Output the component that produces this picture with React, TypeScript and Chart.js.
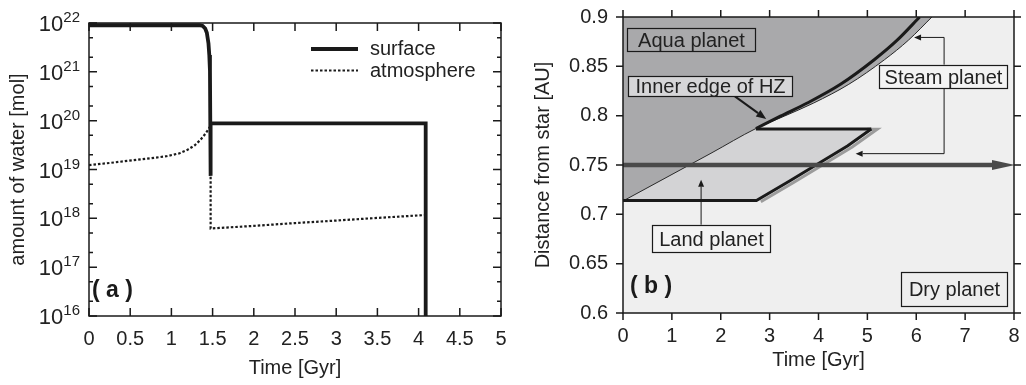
import React, { useEffect, useRef } from "react";
import { Chart, registerables } from "chart.js";

Chart.register(...registerables);

const FONT = '"Liberation Sans", Arial, Helvetica, sans-serif';
const INK = "#1a1a1a";
const TEXT = "#222222";

// ---------------- Panel (a): amount of water ----------------
const surfaceTime = [0, 1.34, 1.38, 1.41, 1.43, 1.45, 1.46, 1.468, 1.476, 1.476, 4.086, 4.086];
const surfaceWater = [9e21, 9e21, 8.7e21, 7.7e21, 6.3e21, 3.8e21, 2.2e21, 1.05e21, 7.4e18, 8.8e19, 8.8e19, 1e15];
const atmTime = [0, 0.25, 0.54, 0.75, 0.94, 1.1, 1.19, 1.28, 1.35, 1.42, 1.465, 1.476, 1.476, 2.0, 2.5, 3.0, 3.5, 4.086];
const atmWater = [1.23e19, 1.36e19, 1.55e19, 1.7e19, 1.87e19, 2.15e19, 2.5e19, 3.1e19, 4.0e19, 5.6e19, 7.4e19, 7.8e19, 6.2e17, 7.0e17, 8.0e17, 9.0e17, 1.02e18, 1.17e18];
const timeTicksA = [0, 0.5, 1, 1.5, 2, 2.5, 3, 3.5, 4, 4.5, 5];
const waterDecades = [16, 17, 18, 19, 20, 21, 22];
const waterMinorFactors = [2, 5];

// ---------------- Panel (b): distance vs time ----------------
const aquaEdgeTime = [0, 0.9, 1.8, 2.72, 3.3, 3.9, 4.62, 5.35, 5.84, 6.32];
const aquaEdgeDist = [0.7135, 0.7377, 0.7619, 0.787, 0.7995, 0.8128, 0.8318, 0.8567, 0.8765, 0.9];
const hzTime = [2.72, 3.22, 3.77, 4.45, 5.14, 5.61, 6.07];
const hzDist = [0.787, 0.7995, 0.8128, 0.8318, 0.8567, 0.8765, 0.9];
const landTime = [0, 2.73, 3.4, 4.0, 4.6, 5.08];
const landDist = [0.714, 0.714, 0.7335, 0.7515, 0.7695, 0.7865];
const landTopTime = [2.72, 5.08];
const landTopDist = [0.7865, 0.7865];
const shadowTime = [2.82, 3.49, 4.09, 4.69, 5.2, 5.0];
const shadowDist = [0.7128, 0.7323, 0.7503, 0.7683, 0.7862, 0.7862];
const orbitTime = [0, 8];
const orbitDist = [0.75, 0.75];
const timeTicksB = [0, 1, 2, 3, 4, 5, 6, 7, 8];
const distTicks = [0.6, 0.65, 0.7, 0.75, 0.8, 0.85, 0.9];

const AQUA = "#a9a9ab";
const LAND = "#d3d3d5";
const DRY = "#efefef";

// annotation layout (in data coordinates of panel b)
const labelBoxes = [
  { text: "Aqua planet", x0: 0.09, x1: 2.71, y0: 0.8889, y1: 0.8651, fill: AQUA },
  { text: "Inner edge of HZ", x0: 0.1, x1: 3.46, y0: 0.8405, y1: 0.8195, fill: "#d6d6d8" },
  { text: "Steam planet", x0: 5.24, x1: 7.86, y0: 0.8517, y1: 0.828, fill: "#f3f3f3" },
  { text: "Land planet", x0: 0.594, x1: 3.004, y0: 0.6895, y1: 0.6618, fill: "#f3f3f3" },
  { text: "Dry planet", x0: 5.68, x1: 7.86, y0: 0.6412, y1: 0.6074, fill: "#eeeeee" },
];
const pointerArrows = [
  { path: [[2.29, 0.8195], [2.93, 0.7966]], width: 2, head: 10, half: 4 },
  { path: [[6.57, 0.8517], [6.57, 0.8793], [5.955, 0.8793]], width: 1, head: 7, half: 3 },
  { path: [[6.57, 0.828], [6.57, 0.7615], [4.76, 0.7615]], width: 1, head: 7, half: 3 },
  { path: [[1.598, 0.6895], [1.598, 0.7351]], width: 1, head: 7, half: 3 },
];

const pts = (xs: number[], ys: number[]) => xs.map((x, i) => ({ x, y: ys[i] }));
const fmt = (v: number) => String(Math.round(v * 1000) / 1000);

function drawHead(ctx: CanvasRenderingContext2D, fx: number, fy: number, tx: number, ty: number, head: number, half: number) {
  const ang = Math.atan2(ty - fy, tx - fx);
  const c = Math.cos(ang), s = Math.sin(ang);
  const bx = tx - c * head, by = ty - s * head;
  ctx.beginPath();
  ctx.moveTo(tx, ty);
  ctx.lineTo(bx - s * half, by + c * half);
  ctx.lineTo(bx + s * half, by - c * half);
  ctx.closePath();
  ctx.fill();
  return [bx, by];
}

function frameTicks(xTicks: { v: number; len: number }[], yTicks: { v: number; len: number }[], inward: boolean) {
  return {
    id: "frameTicks",
    afterDatasetsDraw(chart: any) {
      const { ctx, chartArea: a, scales } = chart;
      ctx.save();
      ctx.strokeStyle = INK;
      ctx.lineWidth = 1.5;
      ctx.setLineDash([]);
      ctx.strokeRect(a.left, a.top, a.right - a.left, a.bottom - a.top);
      const d = inward ? 1 : -1;
      ctx.beginPath();
      for (const t of xTicks) {
        const px = scales.x.getPixelForValue(t.v);
        ctx.moveTo(px, a.bottom);
        ctx.lineTo(px, a.bottom - d * t.len);
        ctx.moveTo(px, a.top);
        ctx.lineTo(px, a.top + d * t.len);
      }
      for (const t of yTicks) {
        const py = scales.y.getPixelForValue(t.v);
        ctx.moveTo(a.left, py);
        ctx.lineTo(a.left + d * t.len, py);
        ctx.moveTo(a.right, py);
        ctx.lineTo(a.right - d * t.len, py);
      }
      ctx.stroke();
      ctx.restore();
    },
  };
}

function panelTag(text: string, dx: number, dyFromBottom: number) {
  return {
    id: "panelTag",
    afterDatasetsDraw(chart: any) {
      const { ctx, chartArea: a } = chart;
      ctx.save();
      ctx.font = `bold 23px ${FONT}`;
      ctx.fillStyle = INK;
      ctx.textAlign = "left";
      ctx.textBaseline = "alphabetic";
      ctx.fillText(text, a.left + dx, a.bottom - dyFromBottom);
      ctx.restore();
    },
  };
}

const noSidePadding = (s: any, h: number) => {
  s.height = h;
  s.paddingLeft = 0;
  s.paddingRight = 0;
};

function makeLeft(canvas: HTMLCanvasElement) {
  const xTicks = timeTicksA.map((v) => ({ v, len: 8 }));
  const yTicks: { v: number; len: number }[] = [];
  waterDecades.forEach((e) => {
    yTicks.push({ v: Math.pow(10, e), len: 8 });
    if (e < waterDecades[waterDecades.length - 1]) waterMinorFactors.forEach((f) => yTicks.push({ v: f * Math.pow(10, e), len: 4 }));
  });
  const supLabels = {
    id: "supLabels",
    afterDraw(chart: any) {
      const { ctx, chartArea: a, scales } = chart;
      ctx.save();
      ctx.fillStyle = TEXT;
      ctx.textBaseline = "alphabetic";
      for (const e of waterDecades) {
        const py = scales.y.getPixelForValue(Math.pow(10, e));
        const right = a.left - 9;
        ctx.font = `15px ${FONT}`;
        const ew = ctx.measureText(String(e)).width;
        ctx.textAlign = "left";
        ctx.fillText(String(e), right - ew, py - 1);
        ctx.font = `22px ${FONT}`;
        ctx.textAlign = "right";
        ctx.fillText("10", right - ew, py + 8);
      }
      ctx.restore();
    },
  };
  const legendBox = {
    id: "legendBox",
    afterDatasetsDraw(chart: any) {
      const { ctx, chartArea: a } = chart;
      ctx.save();
      chart.data.datasets.forEach((ds: any, i: number) => {
        const y = a.top + 26 + i * 21.5;
        ctx.strokeStyle = ds.borderColor;
        ctx.lineWidth = ds.borderWidth;
        ctx.setLineDash(ds.borderDash || []);
        ctx.beginPath();
        ctx.moveTo(a.left + 222, y);
        ctx.lineTo(a.left + 269, y);
        ctx.stroke();
        ctx.setLineDash([]);
        ctx.font = `20px ${FONT}`;
        ctx.fillStyle = TEXT;
        ctx.textAlign = "left";
        ctx.textBaseline = "alphabetic";
        ctx.fillText(ds.label, a.left + 281, y + 6);
      });
      ctx.restore();
    },
  };
  return new Chart(canvas, {
    type: "line",
    data: {
      datasets: [
        { label: "surface", data: pts(surfaceTime, surfaceWater), borderColor: INK, borderWidth: 3.8, pointRadius: 0, tension: 0, borderJoinStyle: "miter", fill: false },
        { label: "atmosphere", data: pts(atmTime, atmWater), borderColor: INK, borderWidth: 2.2, borderDash: [2.5, 2], pointRadius: 0, tension: 0, fill: false },
      ],
    },
    options: {
      animation: false,
      responsive: false,
      maintainAspectRatio: false,
      layout: { padding: { top: 23, right: 14, bottom: 0, left: 0 } },
      plugins: { legend: { display: false }, tooltip: { enabled: false } },
      scales: {
        x: {
          type: "linear",
          min: 0,
          max: 5,
          afterBuildTicks: (s: any) => { s.ticks = timeTicksA.map((v) => ({ value: v })); },
          ticks: { font: { size: 20, family: FONT }, color: TEXT, padding: 11, maxRotation: 0, autoSkip: false, callback: (v: any) => fmt(Number(v)) },
          grid: { display: false, drawTicks: false },
          border: { display: false },
          title: { display: true, text: "Time [Gyr]", font: { size: 20, family: FONT }, color: TEXT, padding: { top: 0, bottom: 5 } },
          afterFit: (s: any) => noSidePadding(s, 69),
        },
        y: {
          type: "logarithmic",
          min: 1e16,
          max: 1e22,
          afterBuildTicks: (s: any) => { s.ticks = waterDecades.map((e) => ({ value: Math.pow(10, e) })); },
          ticks: { display: false },
          grid: { display: false, drawTicks: false },
          border: { display: false },
          title: { display: true, text: "amount of water [mol]", font: { size: 20, family: FONT }, color: TEXT, padding: { top: 6, bottom: 0 } },
          afterFit: (s: any) => { s.width = 89; s.paddingTop = 0; s.paddingBottom = 0; },
        },
      },
    } as any,
    plugins: [frameTicks(xTicks, yTicks, true), supLabels, legendBox, panelTag("( a )", 3, 19)] as any,
  });
}

function makeRight(canvas: HTMLCanvasElement) {
  const xTicks = timeTicksB.map((v) => ({ v, len: 7 }));
  const yTicks = distTicks.map((v) => ({ v, len: 7 }));
  const background = {
    id: "dryBg",
    beforeDatasetsDraw(chart: any) {
      const { ctx, chartArea: a } = chart;
      ctx.save();
      ctx.fillStyle = DRY;
      ctx.fillRect(a.left, a.top, a.right - a.left, a.bottom - a.top);
      ctx.restore();
    },
  };
  const annotations = {
    id: "annotations",
    afterDatasetsDraw(chart: any) {
      const { ctx, scales } = chart;
      const X = (v: number) => scales.x.getPixelForValue(v);
      const Y = (v: number) => scales.y.getPixelForValue(v);
      ctx.save();
      // orbit arrow head
      const oy = Y(orbitDist[1]);
      ctx.fillStyle = "#4a4a4a";
      drawHead(ctx, X(orbitTime[0]), oy, X(orbitTime[1]) + 1, oy, 23, 5);
      // pointer arrows
      ctx.fillStyle = INK;
      ctx.strokeStyle = INK;
      for (const ar of pointerArrows) {
        const p = ar.path.map(([x, y]) => [X(x), Y(y)]);
        const n = p.length;
        ctx.lineWidth = ar.width;
        const [bx, by] = drawHead(ctx, p[n - 2][0], p[n - 2][1], p[n - 1][0], p[n - 1][1], ar.head, ar.half);
        ctx.beginPath();
        ctx.moveTo(p[0][0], p[0][1]);
        for (let i = 1; i < n - 1; i++) ctx.lineTo(p[i][0], p[i][1]);
        ctx.lineTo(bx, by);
        ctx.stroke();
      }
      // label boxes
      for (const b of labelBoxes) {
        const l = Math.round(X(b.x0)) + 0.5, r = Math.round(X(b.x1)) + 0.5;
        const t = Math.round(Y(b.y0)) + 0.5, btm = Math.round(Y(b.y1)) + 0.5;
        ctx.fillStyle = b.fill;
        ctx.fillRect(l, t, r - l, btm - t);
        ctx.lineWidth = 1.2;
        ctx.strokeStyle = INK;
        ctx.strokeRect(l, t, r - l, btm - t);
        ctx.fillStyle = TEXT;
        ctx.font = `20px ${FONT}`;
        ctx.textAlign = "center";
        ctx.textBaseline = "middle";
        ctx.fillText(b.text, (l + r) / 2, (t + btm) / 2 + 1);
      }
      ctx.restore();
    },
  };
  return new Chart(canvas, {
    type: "line",
    data: {
      datasets: [
        { label: "land region", data: pts(landTime, landDist), borderWidth: 0, backgroundColor: LAND, fill: { value: landTopDist[0] }, pointRadius: 0, tension: 0, order: 10 },
        { label: "aqua region", data: pts(aquaEdgeTime, aquaEdgeDist), borderColor: "#2a2a2a", borderWidth: 1, backgroundColor: AQUA, fill: "end", pointRadius: 0, cubicInterpolationMode: "monotone", order: 9 },
        { label: "shadow", data: pts(shadowTime, shadowDist), borderColor: "#9c9c9c", borderWidth: 3, fill: false, pointRadius: 0, tension: 0, order: 8 },
        { label: "land edge", data: pts(landTime, landDist), borderColor: INK, borderWidth: 3, fill: false, pointRadius: 0, tension: 0, borderJoinStyle: "miter", order: 7 },
        { label: "land top", data: pts(landTopTime, landTopDist), borderColor: INK, borderWidth: 3, fill: false, pointRadius: 0, tension: 0, order: 6 },
        { label: "inner edge of HZ", data: pts(hzTime, hzDist), borderColor: INK, borderWidth: 3, fill: false, pointRadius: 0, cubicInterpolationMode: "monotone", order: 5 },
        { label: "orbit", data: pts(orbitTime, orbitDist), borderColor: "#4a4a4a", borderWidth: 4.5, fill: false, pointRadius: 0, tension: 0, order: 4, clip: { left: 0, top: 0, right: -18, bottom: 0 } },
      ],
    },
    options: {
      animation: false,
      responsive: false,
      maintainAspectRatio: false,
      layout: { padding: { top: 17, right: 12, bottom: 0, left: 0 } },
      plugins: { legend: { display: false }, tooltip: { enabled: false } },
      scales: {
        x: {
          type: "linear",
          min: 0,
          max: 8,
          afterBuildTicks: (s: any) => { s.ticks = timeTicksB.map((v) => ({ value: v })); },
          ticks: { font: { size: 20, family: FONT }, color: TEXT, padding: 11, maxRotation: 0, autoSkip: false, callback: (v: any) => fmt(Number(v)) },
          grid: { display: false, drawTicks: false },
          border: { display: false },
          title: { display: true, text: "Time [Gyr]", font: { size: 20, family: FONT }, color: TEXT, padding: { top: 0, bottom: 13 } },
          afterFit: (s: any) => noSidePadding(s, 72),
        },
        y: {
          type: "linear",
          min: 0.6,
          max: 0.9,
          afterBuildTicks: (s: any) => { s.ticks = distTicks.map((v) => ({ value: v })); },
          ticks: { font: { size: 20, family: FONT }, color: TEXT, padding: 15, autoSkip: false, callback: (v: any) => fmt(Number(v)) },
          grid: { display: false, drawTicks: false },
          border: { display: false },
          title: { display: true, text: "Distance from star [AU]", font: { size: 20, family: FONT }, color: TEXT, padding: { top: 16, bottom: 0 } },
          afterFit: (s: any) => { s.width = 108; s.paddingTop = 0; s.paddingBottom = 0; },
        },
      },
    } as any,
    plugins: [background, annotations, frameTicks(xTicks, yTicks, false), panelTag("( b )", 7, 20)] as any,
  });
}

export default function App() {
  const leftRef = useRef<HTMLCanvasElement>(null);
  const rightRef = useRef<HTMLCanvasElement>(null);
  useEffect(() => {
    const a = makeLeft(leftRef.current!);
    const b = makeRight(rightRef.current!);
    return () => {
      a.destroy();
      b.destroy();
    };
  }, []);
  return (
    <div style={{ position: "absolute", left: 0, top: 0, width: 1026, height: 385, background: "#fff", overflow: "hidden" }}>
      <canvas ref={leftRef} width={515} height={385} style={{ position: "absolute", left: 0, top: 0, width: 515, height: 385 }} />
      <canvas ref={rightRef} width={511} height={385} style={{ position: "absolute", left: 515, top: 0, width: 511, height: 385 }} />
    </div>
  );
}
